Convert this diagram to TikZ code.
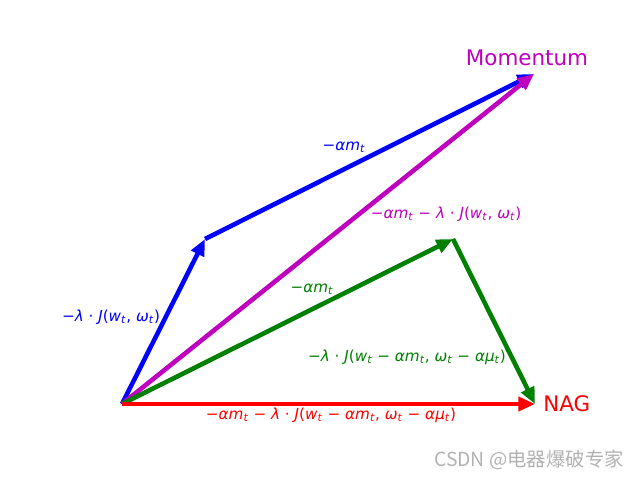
\documentclass[tikz,border=0pt]{standalone}
\usepackage{fontspec}
\setmainfont{DejaVu Sans}
\newfontfamily\cjkfont{Noto Sans CJK SC}
\usetikzlibrary{arrows.meta}
\definecolor{mplmagenta}{rgb}{0.75,0,0.75}
\definecolor{mplgreen}{rgb}{0,0.5,0}
\newcommand{\vi}[1]{\textit{#1}}
\newcommand{\st}{\textsubscript{\textit{t}}}
\newcommand{\amt}{−\vi{αm}\st}

\begin{document}
\begin{tikzpicture}[x=0.0254cm,y=-0.0254cm,
  vec/.style={line width=3.3pt,-{Triangle[length=12pt,width=10pt]}},
  biglabel/.style={font=\fontsize{15.5}{18}\selectfont},
  smalllabel/.style={font=\fontsize{11}{13}\selectfont,inner sep=1pt}]
\useasboundingbox (0,0) rectangle (640,480);

\coordinate (O) at (122,404);
\coordinate (P) at (205,239);
\coordinate (M) at (534,74);
\coordinate (G) at (453,239);
\coordinate (N) at (535,404);

\draw[vec,blue] (O) -- (P);
\draw[vec,blue] (P) -- (M);
\draw[vec,mplmagenta] (O) -- (M);
\draw[vec,mplgreen] (O) -- (G);
\draw[vec,mplgreen] (G) -- (N);
\draw[vec,red] (O) -- (N);

\node[biglabel,mplmagenta] (momentum) at (527,58) {Momentum};
\node[biglabel,red,anchor=west,inner sep=0pt] (nag) at (543,404) {NAG};

\node[smalllabel,blue] (blueA) at (111,317) {−\vi{λ} · \vi{J}(\vi{w}\st, \vi{ω}\st)};
\node[smalllabel,blue] (blueB) at (344,147) {\amt};
\node[smalllabel,mplmagenta] (mag) at (446,214) {\amt{} − \vi{λ} · \vi{J}(\vi{w}\st, \vi{ω}\st)};
\node[smalllabel,mplgreen] (greenA) at (312,289) {\amt};
\node[smalllabel,mplgreen] (greenB) at (407,357) {−\vi{λ} · \vi{J}(\vi{w}\st{} − \vi{αm}\st, \vi{ω}\st{} − \vi{αμ}\st)};
\node[smalllabel,red] (redlab) at (331,415) {\amt{} − \vi{λ} · \vi{J}(\vi{w}\st{} − \vi{αm}\st, \vi{ω}\st{} − \vi{αμ}\st)};

\node[font=\cjkfont\fontsize{14}{16}\selectfont,gray!60] (mark) at (529,460) {CSDN @电器爆破专家};
\end{tikzpicture}
\end{document}
